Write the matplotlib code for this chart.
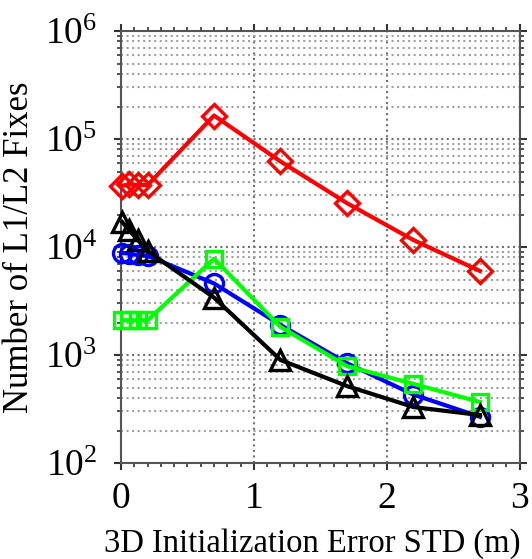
import numpy as np
import matplotlib.pyplot as plt
from matplotlib.ticker import LogLocator, MultipleLocator, LogFormatterMathtext, NullFormatter

plt.rcParams['font.family'] = ['Liberation Serif', 'DejaVu Serif']
plt.rcParams['mathtext.fontset'] = 'stix'

# Initialisierungsfehler (m)
std_init = [0.01, 0.06, 0.13, 0.2, 0.7, 1.2, 1.7, 2.2, 2.7]

# Anzahl der L1/L2 Fixes je Verfahren
fixes_red = [37000, 38000, 37500, 37500, 165000, 62000, 25500, 11600, 6000]
fixes_blue = [8800, 8700, 8400, 8300, 4600, 1900, 840, 430, 268]
fixes_green = [2100, 2100, 2100, 2100, 7800, 1820, 790, 540, 367]
fixes_black = [17000, 14400, 11500, 9200, 3400, 900, 516, 330, 278]

fig = plt.figure(figsize=(5.32, 5.59), dpi=100)
ax = fig.add_axes([0.2274, 0.1717, 0.7496, 0.7728])

lw = 3.0
mew = 2.4
ax.plot(std_init, fixes_red, color='#ff0000', lw=lw, marker='D', ms=12,
        mfc='none', mew=mew, zorder=3, clip_on=False)
ax.plot(std_init, fixes_blue, color='#0000ff', lw=lw, marker='o', ms=13,
        mfc='none', mew=mew, zorder=3, clip_on=False)
ax.plot(std_init, fixes_green, color='#00ff00', lw=lw, marker='s', ms=12,
        mfc='none', mew=mew, zorder=3, clip_on=False)
ax.plot(std_init, fixes_black, color='black', lw=lw, marker='^', ms=14,
        mfc='none', mew=mew, zorder=4, clip_on=False)

ax.set_yscale('log')
ax.set_xlim(0, 3)
ax.set_ylim(1e2, 1e6)

ax.xaxis.set_major_locator(MultipleLocator(1))
ax.xaxis.set_minor_locator(MultipleLocator(0.1))
ax.yaxis.set_major_locator(LogLocator(base=10))
ax.yaxis.set_minor_locator(LogLocator(base=10, subs=np.arange(2, 10)))
ax.yaxis.set_major_formatter(LogFormatterMathtext())
ax.yaxis.set_minor_formatter(NullFormatter())

# Gitter
ax.grid(True, which='major', axis='both', color='#707070', ls=':', lw=1.5)
ax.grid(True, which='minor', axis='y', color='#a0a0a0', ls=':', lw=1.5)
ax.set_axisbelow(True)

for s in ax.spines.values():
    s.set_color('#555555')
    s.set_linewidth(1.5)

ax.tick_params(which='both', direction='out', top=True, right=True,
               colors='#333333', labelcolor='black', labelsize=27)
ax.tick_params(which='major', length=5, width=1.5)
ax.tick_params(axis='y', which='major', pad=12)
ax.tick_params(axis='x', which='major', pad=8)
ax.tick_params(which='minor', length=3, width=1.2)

xl = ax.set_xlabel('3D Initialization Error STD (m)', fontsize=23.5, labelpad=9)
xl.set_x(0.48)
ax.set_ylabel('Number of L1/L2 Fixes', fontsize=25, labelpad=6)

fig.savefig('out.png', dpi=100)
